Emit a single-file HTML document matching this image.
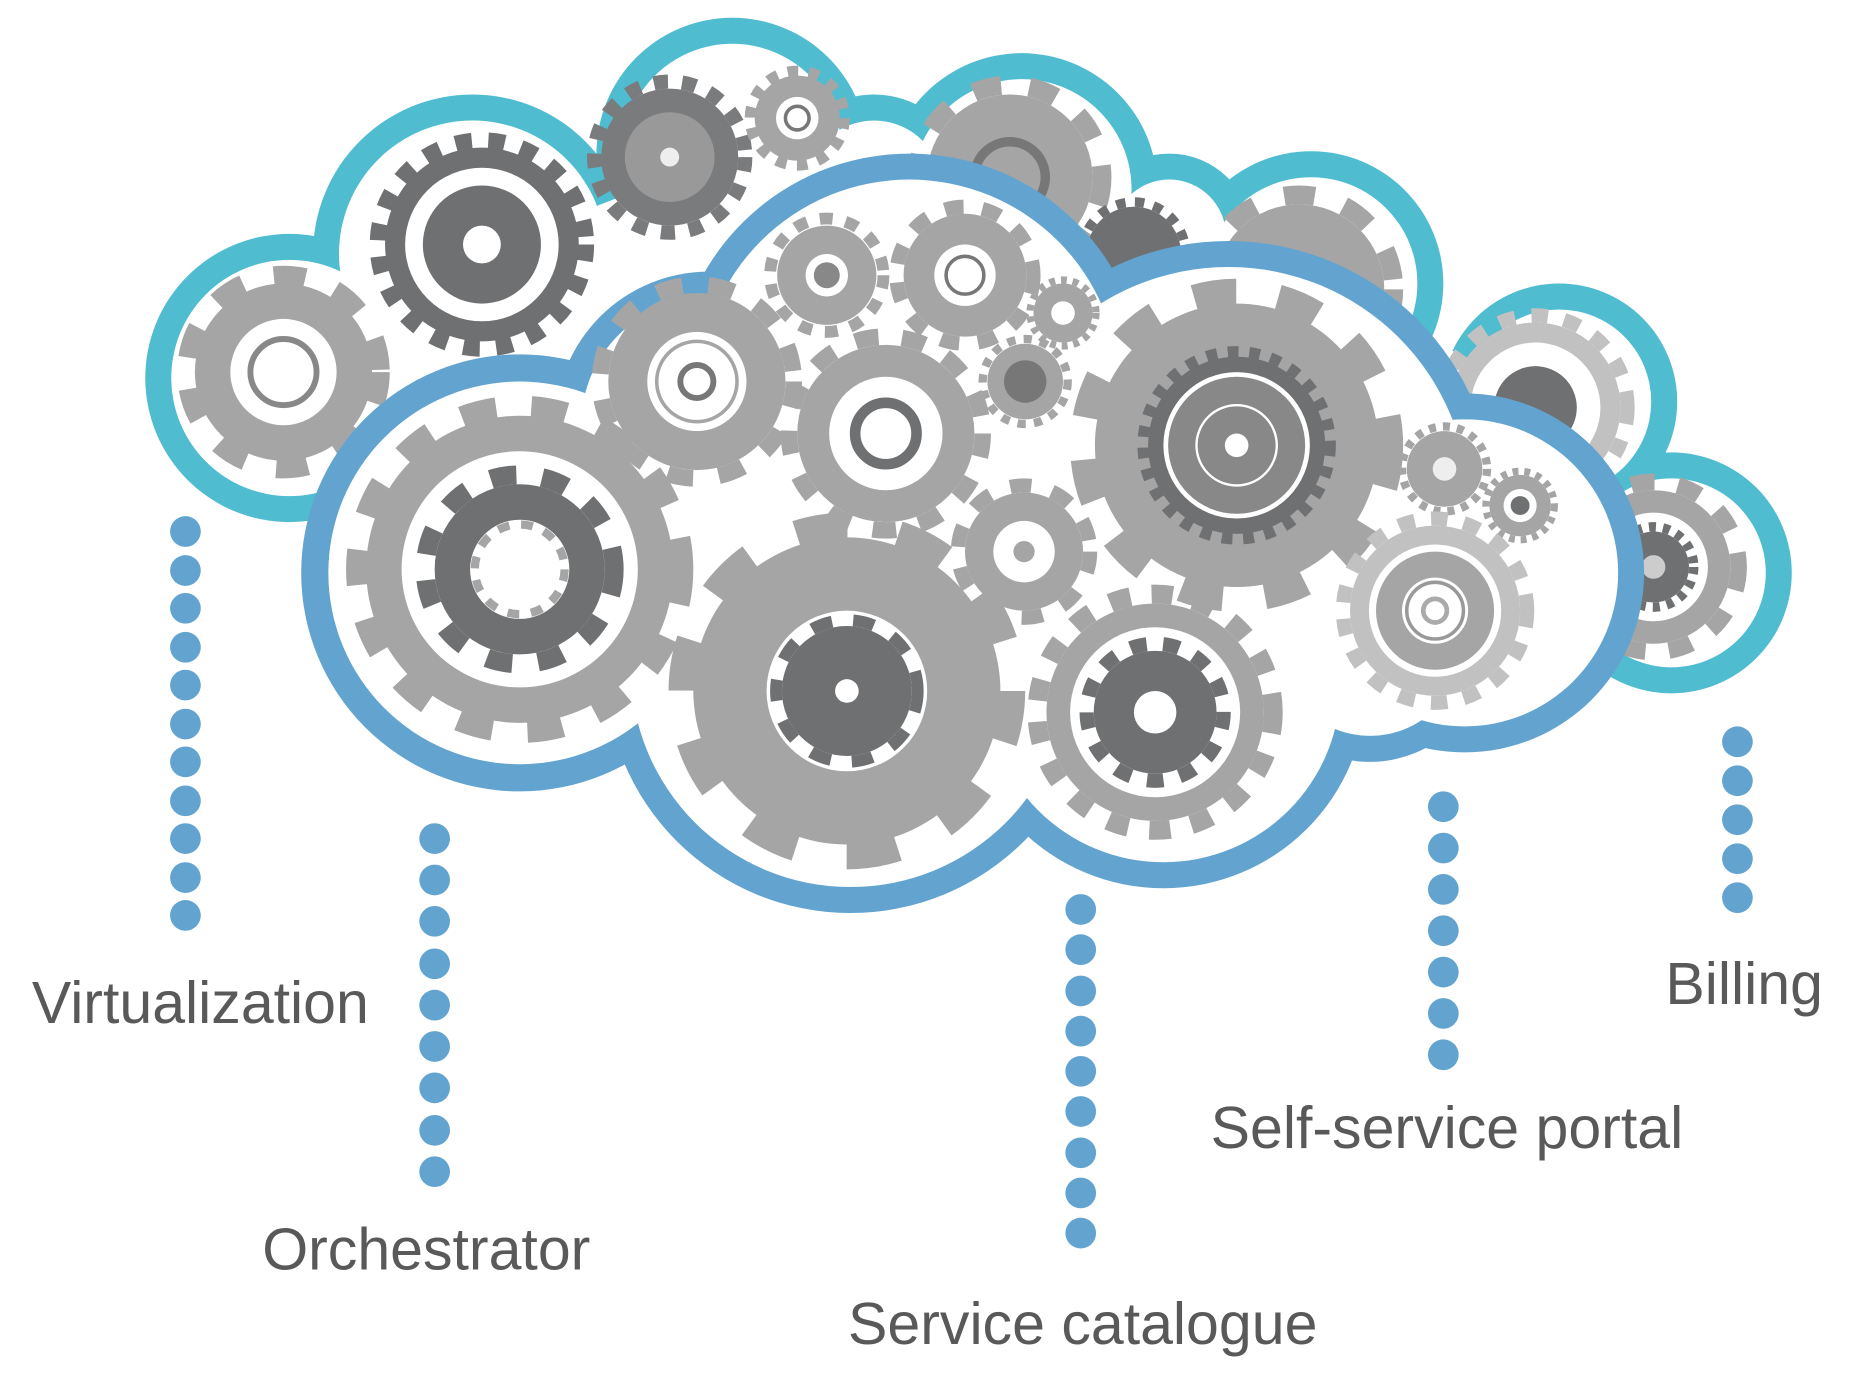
<!DOCTYPE html>
<html><head><meta charset="utf-8"><style>
html,body{margin:0;padding:0;background:#fff;}
svg{display:block}
text{font-family:"Liberation Sans",sans-serif;fill:#595959;font-size:50px}
</style></head><body>
<svg width="1852" height="1392" viewBox="0 0 1568 1178.5" xmlns="http://www.w3.org/2000/svg">
<!-- back cloud -->
<g fill="#4fbcd0">
<circle cx="245" cy="320" r="122"/><circle cx="400" cy="215" r="135"/><circle cx="620" cy="130" r="115"/>
<circle cx="865" cy="160" r="115"/><circle cx="1110" cy="240" r="112"/><circle cx="1320" cy="340" r="100"/>
<circle cx="1415" cy="485" r="102"/><circle cx="1300" cy="470" r="100"/><circle cx="740" cy="160" r="80"/><circle cx="990" cy="200" r="70"/>
</g>
<g fill="#fff">
<circle cx="245" cy="320" r="100"/><circle cx="400" cy="215" r="113"/><circle cx="620" cy="130" r="93"/>
<circle cx="865" cy="160" r="93"/><circle cx="1110" cy="240" r="90"/><circle cx="1320" cy="340" r="78"/>
<circle cx="1415" cy="485" r="80"/><circle cx="1300" cy="470" r="78"/><circle cx="740" cy="160" r="58"/><circle cx="990" cy="200" r="48"/>
<polygon points="245,320 400,215 620,130 740,160 865,160 990,200 1110,240 1320,340 1415,485 1300,560 800,500 300,420"/>
</g>
<!-- back gears -->
<g>
<circle cx="240" cy="315" r="75" fill="#a5a5a5"/><circle cx="240" cy="315" r="82" fill="none" stroke="#a5a5a5" stroke-width="16" stroke-dasharray="27 27"/><circle cx="240" cy="315" r="45" fill="#fff"/><circle cx="240" cy="315" r="28" fill="none" stroke="#888" stroke-width="5"/>
<circle cx="408" cy="207" r="82" fill="#6f7072"/><circle cx="408" cy="207" r="88" fill="none" stroke="#6f7072" stroke-width="14" stroke-dasharray="14 14"/><circle cx="408" cy="207" r="65" fill="#fff"/><circle cx="408" cy="207" r="50" fill="#6f7072"/><circle cx="408" cy="207" r="16" fill="#fff"/>
<circle cx="567" cy="133" r="58" fill="#7a7b7d"/><circle cx="567" cy="133" r="64" fill="none" stroke="#7a7b7d" stroke-width="12" stroke-dasharray="12 12"/><circle cx="567" cy="133" r="38" fill="#999"/><circle cx="567" cy="133" r="8" fill="#eee"/>
<circle cx="675" cy="100" r="36" fill="#a5a5a5"/><circle cx="675" cy="100" r="40" fill="none" stroke="#a5a5a5" stroke-width="9" stroke-dasharray="9 9"/><circle cx="675" cy="100" r="18" fill="#fff"/><circle cx="675" cy="100" r="10" fill="none" stroke="#777" stroke-width="3"/>
<circle cx="855" cy="150" r="70" fill="#a5a5a5"/><circle cx="855" cy="150" r="78" fill="none" stroke="#a5a5a5" stroke-width="16" stroke-dasharray="24 24"/><circle cx="855" cy="150" r="30" fill="none" stroke="#777" stroke-width="8"/>
<circle cx="960" cy="215" r="40" fill="#6f7072"/><circle cx="960" cy="215" r="44" fill="none" stroke="#6f7072" stroke-width="8" stroke-dasharray="8 8"/>
<circle cx="1100" cy="245" r="72" fill="#a5a5a5"/><circle cx="1100" cy="245" r="80" fill="none" stroke="#a5a5a5" stroke-width="16" stroke-dasharray="26 26"/>
<circle cx="1300" cy="345" r="72" fill="#c1c1c1"/><circle cx="1300" cy="345" r="78" fill="none" stroke="#c1c1c1" stroke-width="12" stroke-dasharray="14 14"/><circle cx="1300" cy="345" r="55" fill="#fff"/><circle cx="1300" cy="345" r="35" fill="#6f7072"/>
<circle cx="1400" cy="480" r="65" fill="#a5a5a5"/><circle cx="1400" cy="480" r="72" fill="none" stroke="#a5a5a5" stroke-width="14" stroke-dasharray="20 20"/><circle cx="1400" cy="480" r="46" fill="#fff"/><circle cx="1400" cy="480" r="30" fill="#6f7072"/><circle cx="1400" cy="480" r="34" fill="none" stroke="#6f7072" stroke-width="8" stroke-dasharray="6 6"/><circle cx="1400" cy="480" r="10" fill="#ccc"/>
</g>
<!-- front cloud -->
<g fill="#62a4cf">
<circle cx="440" cy="485" r="185"/><circle cx="600" cy="360" r="130"/><circle cx="770" cy="330" r="200"/>
<circle cx="720" cy="565" r="208"/><circle cx="1040" cy="430" r="226"/><circle cx="985" cy="580" r="172"/>
<circle cx="1240" cy="485" r="152"/><circle cx="1160" cy="545" r="100"/>
</g>
<g fill="#fff">
<circle cx="440" cy="485" r="162"/><circle cx="600" cy="360" r="108"/><circle cx="770" cy="330" r="178"/>
<circle cx="720" cy="565" r="186"/><circle cx="1040" cy="430" r="204"/><circle cx="985" cy="580" r="150"/>
<circle cx="1240" cy="485" r="130"/><circle cx="1160" cy="545" r="78"/>
<polygon points="440,485 600,360 770,330 1040,430 1240,485 1160,545 985,580 720,565"/>
</g>
<!-- front gears -->
<g>
<circle cx="440" cy="482" r="130" fill="#a5a5a5"/><circle cx="440" cy="482" r="138" fill="none" stroke="#a5a5a5" stroke-width="18" stroke-dasharray="30 30"/><circle cx="440" cy="482" r="100" fill="#fff"/><circle cx="440" cy="482" r="72" fill="#6f7072"/><circle cx="440" cy="482" r="80" fill="none" stroke="#6f7072" stroke-width="16" stroke-dasharray="22 22"/><circle cx="440" cy="482" r="42" fill="#fff"/><circle cx="440" cy="482" r="38" fill="none" stroke="#a5a5a5" stroke-width="7" stroke-dasharray="10 10"/>
<circle cx="590" cy="323" r="75" fill="#a5a5a5"/><circle cx="590" cy="323" r="82" fill="none" stroke="#a5a5a5" stroke-width="14" stroke-dasharray="22 22"/><circle cx="590" cy="323" r="42" fill="#fff"/><circle cx="590" cy="323" r="34" fill="none" stroke="#a5a5a5" stroke-width="3"/><circle cx="590" cy="323" r="14" fill="none" stroke="#777" stroke-width="5"/>
<circle cx="700" cy="233" r="42" fill="#a5a5a5"/><circle cx="700" cy="233" r="48" fill="none" stroke="#a5a5a5" stroke-width="10" stroke-dasharray="11 11"/><circle cx="700" cy="233" r="18" fill="#fff"/><circle cx="700" cy="233" r="11" fill="#888"/>
<circle cx="817" cy="233" r="52" fill="#a5a5a5"/><circle cx="817" cy="233" r="58" fill="none" stroke="#a5a5a5" stroke-width="12" stroke-dasharray="16 16"/><circle cx="817" cy="233" r="26" fill="#fff"/><circle cx="817" cy="233" r="16" fill="none" stroke="#777" stroke-width="3"/>
<circle cx="900" cy="265" r="25" fill="#a5a5a5"/><circle cx="900" cy="265" r="28" fill="none" stroke="#a5a5a5" stroke-width="6" stroke-dasharray="5 5"/><circle cx="900" cy="265" r="10" fill="#fff"/>
<circle cx="868" cy="323" r="32" fill="#a5a5a5"/><circle cx="868" cy="323" r="36" fill="none" stroke="#a5a5a5" stroke-width="7" stroke-dasharray="7 7"/><circle cx="868" cy="323" r="18" fill="#777"/>
<circle cx="750" cy="367" r="75" fill="#a5a5a5"/><circle cx="750" cy="367" r="82" fill="none" stroke="#a5a5a5" stroke-width="14" stroke-dasharray="20 20"/><circle cx="750" cy="367" r="48" fill="#fff"/><circle cx="750" cy="367" r="26" fill="none" stroke="#6f7072" stroke-width="9"/>
<circle cx="867" cy="467" r="50" fill="#a5a5a5"/><circle cx="867" cy="467" r="56" fill="none" stroke="#a5a5a5" stroke-width="12" stroke-dasharray="18 18"/><circle cx="867" cy="467" r="26" fill="#fff"/><circle cx="867" cy="467" r="9" fill="#a5a5a5"/>
<circle cx="1047" cy="377" r="120" fill="#a5a5a5"/><circle cx="1047" cy="377" r="130" fill="none" stroke="#a5a5a5" stroke-width="22" stroke-dasharray="36 36"/><circle cx="1047" cy="377" r="75" fill="#6f7072"/><circle cx="1047" cy="377" r="78" fill="none" stroke="#6f7072" stroke-width="12" stroke-dasharray="9 9"/><circle cx="1047" cy="377" r="62" fill="#fff"/><circle cx="1047" cy="377" r="58" fill="#888"/><circle cx="1047" cy="377" r="34" fill="none" stroke="#fff" stroke-width="2"/><circle cx="1047" cy="377" r="10" fill="#fff"/>
<circle cx="717" cy="585" r="130" fill="#a5a5a5"/><circle cx="717" cy="585" r="140" fill="none" stroke="#a5a5a5" stroke-width="22" stroke-dasharray="44 44"/><circle cx="717" cy="585" r="68" fill="#fff"/><circle cx="717" cy="585" r="55" fill="#6f7072"/><circle cx="717" cy="585" r="60" fill="none" stroke="#6f7072" stroke-width="10" stroke-dasharray="18 18"/><circle cx="717" cy="585" r="10" fill="#fff"/>
<circle cx="978" cy="603" r="92" fill="#a5a5a5"/><circle cx="978" cy="603" r="100" fill="none" stroke="#a5a5a5" stroke-width="16" stroke-dasharray="18 18"/><circle cx="978" cy="603" r="72" fill="#fff"/><circle cx="978" cy="603" r="52" fill="#6f7072"/><circle cx="978" cy="603" r="58" fill="none" stroke="#6f7072" stroke-width="12" stroke-dasharray="14 14"/><circle cx="978" cy="603" r="18" fill="#fff"/>
<circle cx="1223" cy="397" r="32" fill="#a5a5a5"/><circle cx="1223" cy="397" r="36" fill="none" stroke="#a5a5a5" stroke-width="7" stroke-dasharray="6 6"/><circle cx="1223" cy="397" r="10" fill="#eee"/>
<circle cx="1287" cy="428" r="26" fill="#a5a5a5"/><circle cx="1287" cy="428" r="29" fill="none" stroke="#a5a5a5" stroke-width="6" stroke-dasharray="5 5"/><circle cx="1287" cy="428" r="14" fill="#fff"/><circle cx="1287" cy="428" r="8" fill="#6f7072"/>
<circle cx="1215" cy="517" r="72" fill="#c1c1c1"/><circle cx="1215" cy="517" r="78" fill="none" stroke="#c1c1c1" stroke-width="12" stroke-dasharray="14 14"/><circle cx="1215" cy="517" r="56" fill="#fff"/><circle cx="1215" cy="517" r="50" fill="#a5a5a5"/><circle cx="1215" cy="517" r="28" fill="#fff"/><circle cx="1215" cy="517" r="24" fill="none" stroke="#999" stroke-width="3"/><circle cx="1215" cy="517" r="10" fill="none" stroke="#aaa" stroke-width="4"/>
</g>
<!-- dots -->
<g fill="#62a4cf">
<circle cx="157" cy="450" r="13"/><circle cx="157" cy="483" r="13"/><circle cx="157" cy="515" r="13"/><circle cx="157" cy="548" r="13"/><circle cx="157" cy="580" r="13"/><circle cx="157" cy="613" r="13"/><circle cx="157" cy="645" r="13"/><circle cx="157" cy="678" r="13"/><circle cx="157" cy="710" r="13"/><circle cx="157" cy="743" r="13"/><circle cx="157" cy="775" r="13"/>
<circle cx="368" cy="710" r="13"/><circle cx="368" cy="745" r="13"/><circle cx="368" cy="780" r="13"/><circle cx="368" cy="816" r="13"/><circle cx="368" cy="851" r="13"/><circle cx="368" cy="886" r="13"/><circle cx="368" cy="921" r="13"/><circle cx="368" cy="957" r="13"/><circle cx="368" cy="992" r="13"/>
<circle cx="915" cy="770" r="13"/><circle cx="915" cy="804" r="13"/><circle cx="915" cy="839" r="13"/><circle cx="915" cy="873" r="13"/><circle cx="915" cy="907" r="13"/><circle cx="915" cy="941" r="13"/><circle cx="915" cy="976" r="13"/><circle cx="915" cy="1010" r="13"/><circle cx="915" cy="1044" r="13"/>
<circle cx="1222" cy="683" r="13"/><circle cx="1222" cy="718" r="13"/><circle cx="1222" cy="753" r="13"/><circle cx="1222" cy="788" r="13"/><circle cx="1222" cy="823" r="13"/><circle cx="1222" cy="858" r="13"/><circle cx="1222" cy="893" r="13"/>
<circle cx="1471" cy="628" r="13"/><circle cx="1471" cy="661" r="13"/><circle cx="1471" cy="694" r="13"/><circle cx="1471" cy="727" r="13"/><circle cx="1471" cy="760" r="13"/>
</g>
<text x="27" y="866">Virtualization</text>
<text x="222" y="1075">Orchestrator</text>
<text x="718" y="1138">Service catalogue</text>
<text x="1025" y="972">Self-service portal</text>
<text x="1410" y="850">Billing</text>
</svg>
</body></html>
